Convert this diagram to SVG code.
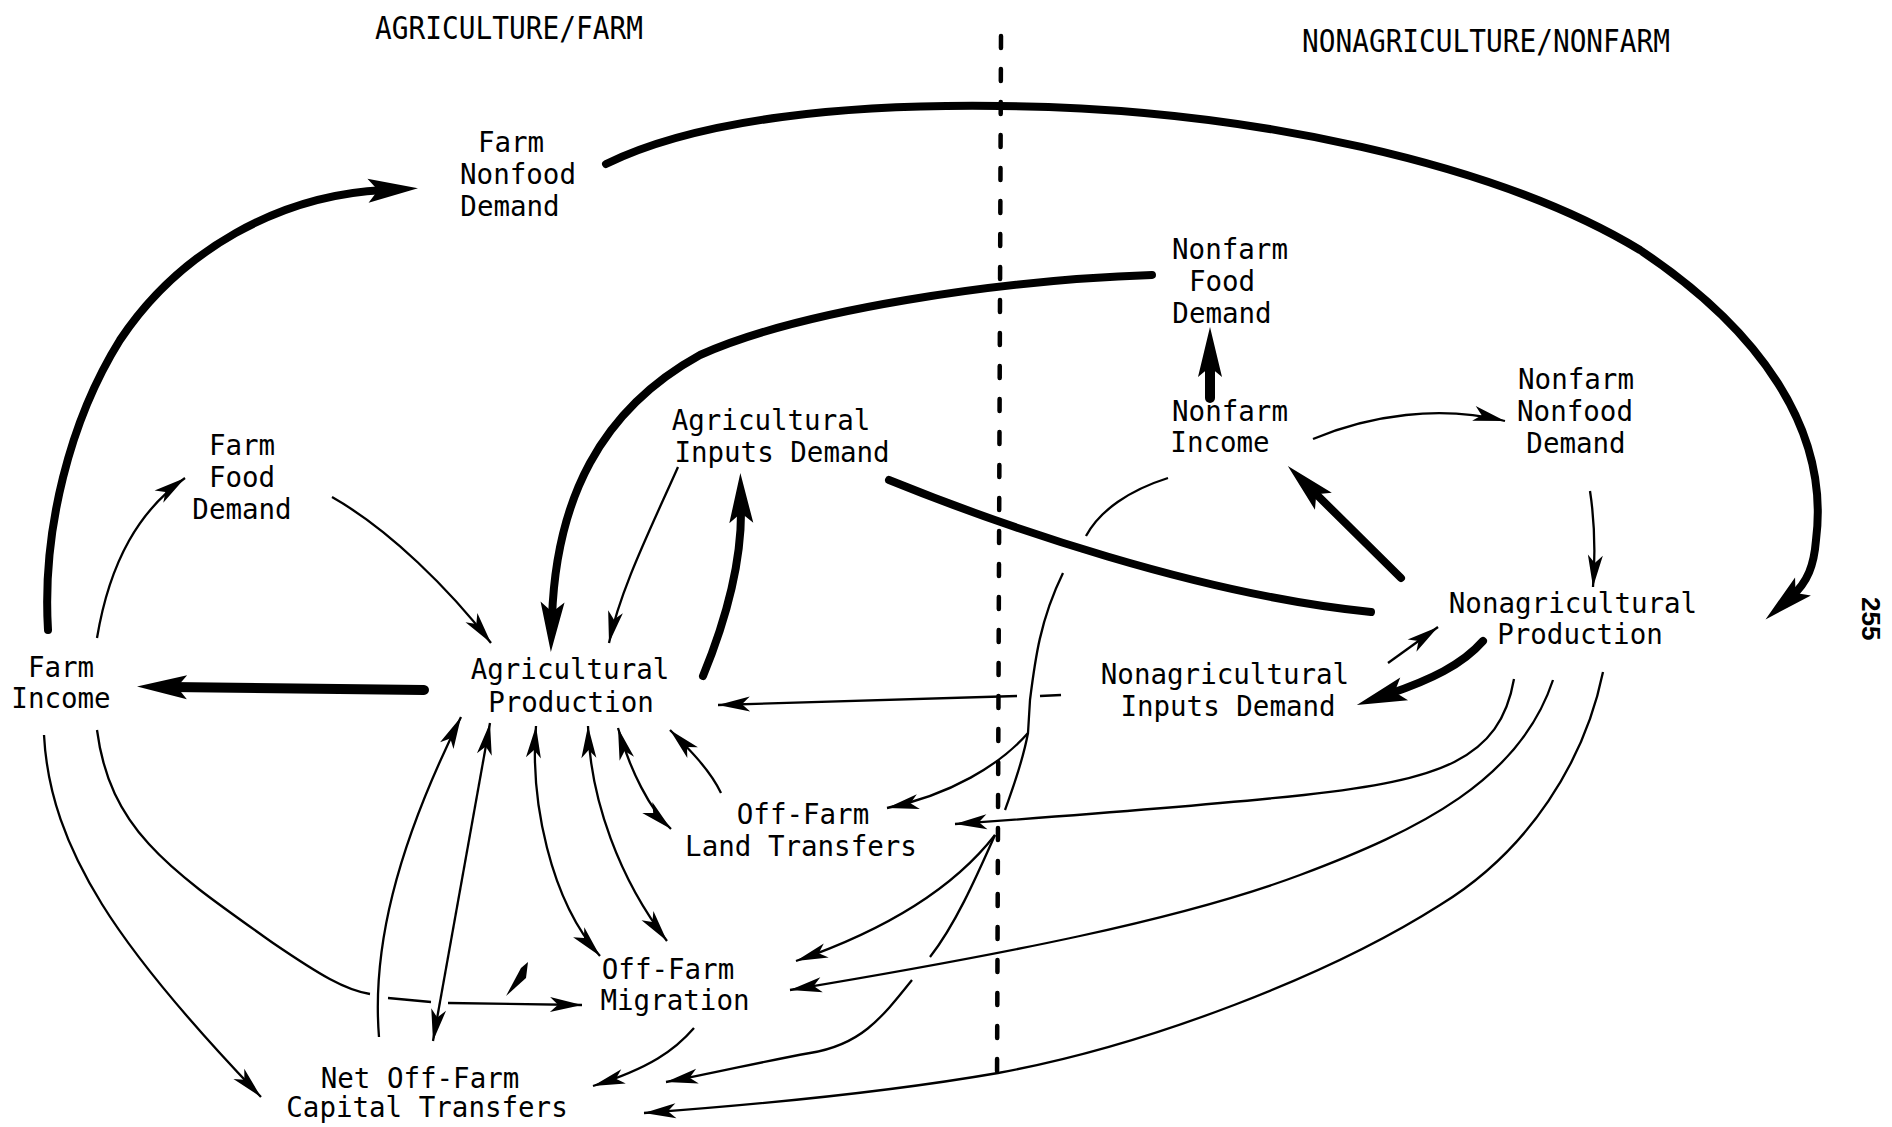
<svg xmlns="http://www.w3.org/2000/svg" width="1892" height="1127" viewBox="0 0 1892 1127">
  <style>
    .lbl { font-family: "DejaVu Sans Mono", "Liberation Mono", monospace; font-size: 27.5px; fill: #000; text-anchor: middle; }
    .head { font-family: "DejaVu Sans Mono", "Liberation Mono", monospace; font-size: 31.5px; fill: #000; }
    .thin { fill: none; stroke: #000; stroke-width: 2.3; }
    .thick { fill: none; stroke: #000; stroke-width: 8; stroke-linecap: round; }
    .heavy { fill: none; stroke: #000; stroke-width: 10; stroke-linecap: round; }
    .divider { fill: none; stroke: #000; stroke-width: 4.5; stroke-dasharray: 12 21; stroke-linecap: round; }
  </style>
  <defs>
    <!-- slim barbed head for thin links, tip at the path end -->
    <marker id="ah" markerUnits="userSpaceOnUse" markerWidth="40" markerHeight="20" refX="0" refY="0" orient="auto" overflow="visible">
      <path d="M0,0 L-32,-7.5 L-24,0 L-32,7.5 Z" fill="#000"/>
    </marker>
    <marker id="ahs" markerUnits="userSpaceOnUse" markerWidth="40" markerHeight="20" refX="0" refY="0" orient="auto-start-reverse" overflow="visible">
      <path d="M0,0 L-32,-7.5 L-24,0 L-32,7.5 Z" fill="#000"/>
    </marker>
    <!-- heavy head for thick links, tip 34 units beyond the path end -->
    <marker id="bh" markerUnits="userSpaceOnUse" markerWidth="60" markerHeight="30" refX="0" refY="0" orient="auto" overflow="visible">
      <path d="M34,0 L-16,-12 L-6,0 L-16,12 Z" fill="#000"/>
    </marker>
  </defs>

  <rect width="1892" height="1127" fill="#fff"/>

  <!-- sector headings -->
  <text class="head" x="375" y="39" textLength="268" lengthAdjust="spacingAndGlyphs">AGRICULTURE/FARM</text>
  <text class="head" x="1302" y="52" textLength="368" lengthAdjust="spacingAndGlyphs">NONAGRICULTURE/NONFARM</text>

  <!-- sector boundary -->
  <path class="divider" d="M1001,36 L997,1084"/>

  <!-- page number -->
  <text transform="translate(1862,597) rotate(90)" x="0" y="0" font-family="Liberation Sans, Arial, sans-serif" font-weight="bold" font-size="26">255</text>

  <g id="connectors">
    <!-- heavy links -->
    <path class="thick" marker-end="url(#bh)" d="M48,630 C42,530 70,420 120,340 C180,250 280,195 384,190"/>
    <path class="thick" stroke-width="7" marker-end="url(#bh)" d="M606,164 C700,118 850,104 1000,106 C1250,108 1500,165 1640,250 C1760,330 1830,430 1816,540 C1814,565 1808,582 1791,597"/>
    <path class="thick" marker-end="url(#bh)" d="M1152,275 C1000,280 800,310 700,355 C600,410 556,500 552,618"/>
    <path class="thick" marker-end="url(#bh)" d="M703,676 C728,615 742,560 741,507"/>
    <path class="heavy" stroke-linecap="butt" marker-end="url(#bh)" d="M424,690 L171,687"/>
    <path class="heavy" stroke-linecap="butt" marker-end="url(#bh)" d="M1210,398 L1210,361"/>
    <path class="thick" stroke-linecap="butt" marker-end="url(#bh)" d="M1401,578 L1312,490"/>
    <path class="thick" d="M889,480 C1000,525 1200,595 1371,612"/>
    <path class="thick" stroke-width="7" marker-end="url(#bh)" d="M1483,641 C1462,665 1430,680 1389,694"/>

    <!-- thin links -->
    <path class="thin" marker-end="url(#ah)" d="M1388,663 L1438,627"/>
    <path class="thin" marker-end="url(#ah)" d="M97,638 C110,560 140,510 185,478"/>
    <path class="thin" marker-end="url(#ah)" d="M332,497 C390,530 450,590 491,643"/>
    <path class="thin" marker-end="url(#ah)" d="M678,467 C650,530 620,590 609,643"/>
    <path class="thin" marker-end="url(#ah)" d="M1313,439 C1370,415 1440,405 1505,421"/>
    <path class="thin" marker-end="url(#ah)" d="M1590,491 C1596,530 1595,560 1593,587"/>
    <path class="thin" marker-end="url(#ah)" d="M1017,696 L718,705"/>
    <path class="thin" d="M1040,696 L1061,695"/>

    <!-- Nonfarm Income to the off-farm flows -->
    <path class="thin" d="M1168,478 C1130,490 1100,510 1086,536"/>
    <path class="thin" marker-end="url(#ah)" d="M1063,573 C1040,620 1035,660 1030,700 L1028,733 C1000,765 950,795 887,808"/>
    <path class="thin" d="M1028,733 C1022,765 1012,790 1005,810"/>
    <path class="thin" marker-end="url(#ah)" d="M995,835 C960,880 900,925 796,961"/>
    <path class="thin" d="M995,835 C975,880 955,925 930,957"/>
    <path class="thin" marker-end="url(#ah)" d="M912,980 C880,1020 860,1045 810,1053 C760,1062 720,1072 666,1082"/>

    <!-- Nonagricultural Production to the off-farm flows -->
    <path class="thin" marker-end="url(#ah)" d="M1514,679 C1500,760 1440,780 1304,795 C1200,806 1080,815 955,824"/>
    <path class="thin" marker-end="url(#ah)" d="M1553,680 C1520,780 1420,830 1300,875 C1180,920 1000,955 790,990"/>
    <path class="thin" marker-end="url(#ah)" d="M1603,672 C1585,760 1530,850 1440,905 C1330,975 1150,1045 998,1073 C900,1090 780,1103 644,1113"/>

    <!-- farm-side flows -->
    <path class="thin" marker-end="url(#ah)" d="M694,1028 C675,1050 650,1068 593,1086"/>
    <path class="thin" marker-end="url(#ah)" d="M44,735 C50,850 120,950 261,1097"/>
    <path class="thin" d="M97,730 C110,830 170,870 273,943 C320,975 345,990 370,994"/>
    <path class="thin" d="M388,998 L431,1002"/>
    <path class="thin" marker-end="url(#ah)" d="M448,1003 L582,1005"/>
    <path class="thin" marker-end="url(#ah)" d="M379,1037 C372,950 395,850 461,717"/>
    <path class="thin" marker-start="url(#ahs)" marker-end="url(#ah)" d="M490,723 L433,1041"/>
    <path class="thin" marker-start="url(#ahs)" marker-end="url(#ah)" d="M536,726 C530,800 550,900 600,956"/>
    <path class="thin" marker-start="url(#ahs)" marker-end="url(#ah)" d="M588,726 C590,800 620,880 667,941"/>
    <path class="thin" marker-start="url(#ahs)" marker-end="url(#ah)" d="M618,728 C630,770 650,810 671,829"/>
    <path class="thin" marker-end="url(#ah)" d="M721,793 C710,770 690,750 670,730"/>

    <!-- loose arrowhead mark -->
    <polygon points="506,996 521,968 528,962 526,978" fill="#000"/>
  </g>

  <g id="farm-nonfood-demand">
    <text class="lbl" x="511" y="152">Farm</text>
    <text class="lbl" x="518" y="184">Nonfood</text>
    <text class="lbl" x="510" y="216">Demand</text>
  </g>
  <g id="nonfarm-food-demand">
    <text class="lbl" x="1230" y="259">Nonfarm</text>
    <text class="lbl" x="1222" y="291">Food</text>
    <text class="lbl" x="1222" y="323">Demand</text>
  </g>
  <g id="nonfarm-income">
    <text class="lbl" x="1230" y="421">Nonfarm</text>
    <text class="lbl" x="1220" y="452">Income</text>
  </g>
  <g id="nonfarm-nonfood-demand">
    <text class="lbl" x="1576" y="389">Nonfarm</text>
    <text class="lbl" x="1575" y="421">Nonfood</text>
    <text class="lbl" x="1576" y="453">Demand</text>
  </g>
  <g id="agricultural-inputs-demand">
    <text class="lbl" x="771" y="430">Agricultural</text>
    <text class="lbl" x="782" y="462">Inputs Demand</text>
  </g>
  <g id="farm-food-demand">
    <text class="lbl" x="242" y="455">Farm</text>
    <text class="lbl" x="242" y="487">Food</text>
    <text class="lbl" x="242" y="519">Demand</text>
  </g>
  <g id="farm-income">
    <text class="lbl" x="61" y="677">Farm</text>
    <text class="lbl" x="61" y="708">Income</text>
  </g>
  <g id="agricultural-production">
    <text class="lbl" x="570" y="679">Agricultural</text>
    <text class="lbl" x="571" y="712">Production</text>
  </g>
  <g id="nonagricultural-production">
    <text class="lbl" x="1573" y="613">Nonagricultural</text>
    <text class="lbl" x="1580" y="644">Production</text>
  </g>
  <g id="nonagricultural-inputs-demand">
    <text class="lbl" x="1225" y="684">Nonagricultural</text>
    <text class="lbl" x="1228" y="716">Inputs Demand</text>
  </g>
  <g id="off-farm-land-transfers">
    <text class="lbl" x="803" y="824">Off-Farm</text>
    <text class="lbl" x="801" y="856">Land Transfers</text>
  </g>
  <g id="off-farm-migration">
    <text class="lbl" x="668" y="979">Off-Farm</text>
    <text class="lbl" x="675" y="1010">Migration</text>
  </g>
  <g id="net-off-farm-capital-transfers">
    <text class="lbl" x="420" y="1088">Net Off-Farm</text>
    <text class="lbl" x="427" y="1117">Capital Transfers</text>
  </g>
</svg>
